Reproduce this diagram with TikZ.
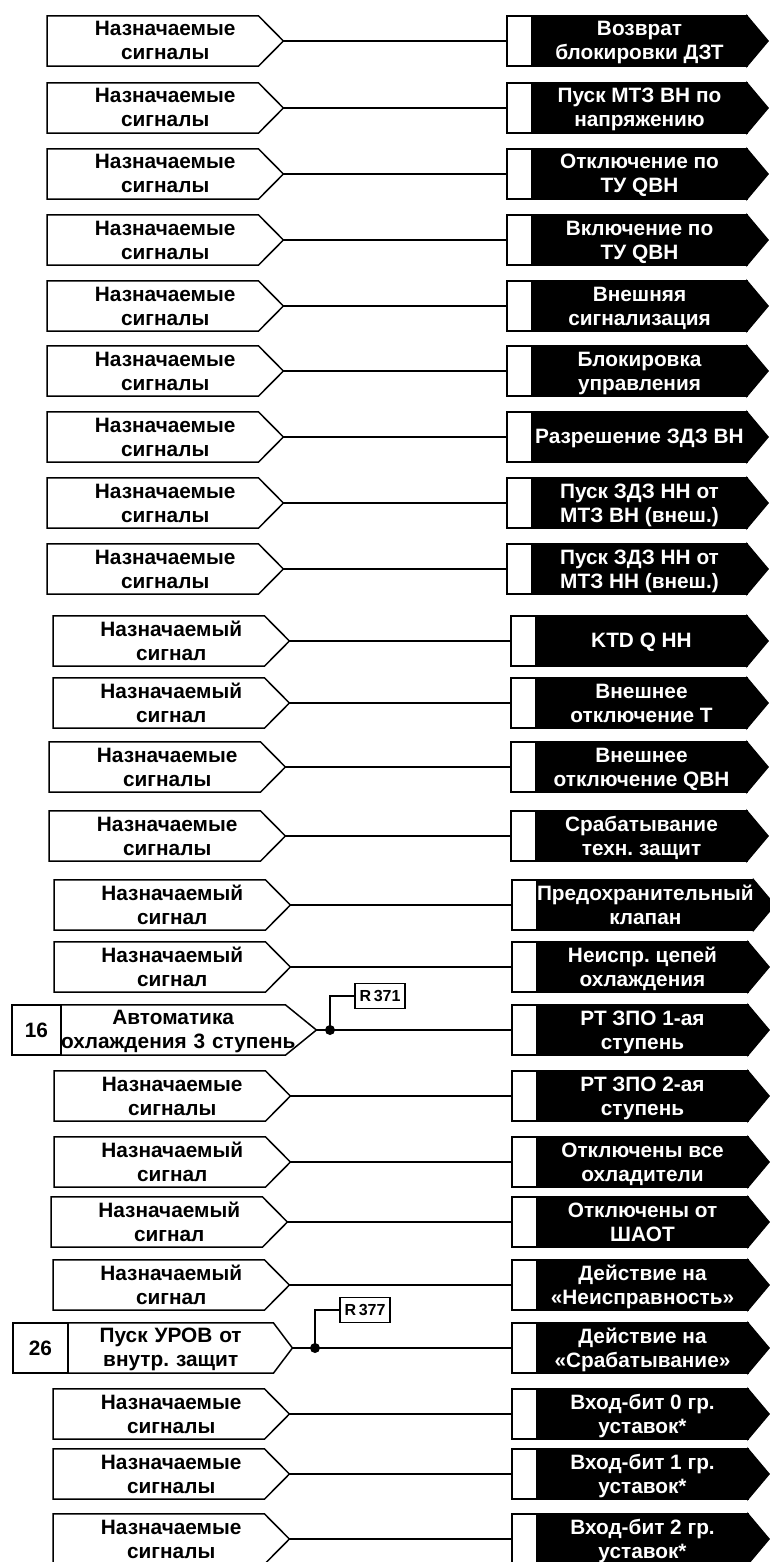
\documentclass[tikz,border=0pt]{standalone}
\usepackage{fontspec}
\setmainfont{Liberation Sans}
\frenchspacing
\usetikzlibrary{positioning}

\newlength\headroom

\tikzset{
  wire/.style={line width=1.5pt},
  label text/.style={font=\bfseries\fontsize{20.8}{24}\selectfont,
    /utils/exec={\setlength\headroom{43pt}},
    execute at begin node={\rule{0pt}{\headroom}},
    execute at end node={\rule[-5pt]{0pt}{5pt}}},
  oneline/.style={/utils/exec={\setlength\headroom{17pt}}},
  insig/.style={rectangle, minimum width=236pt, minimum height=50pt, inner sep=0pt,
    align=center, anchor=west, label text},
  tabbox/.style={draw, fill=white, line width=1.5pt, minimum width=25pt,
    minimum height=50pt, inner sep=0pt, outer sep=0pt, anchor=west},
  outsig/.style={rectangle, fill=black, draw=black, line width=1.5pt, text=white,
    minimum width=215pt, align=center, minimum height=50pt, inner sep=0pt, outer sep=0pt,
    label text},
  numbox/.style={draw, line width=1.5pt, minimum height=50pt, inner sep=0pt, outer sep=0pt,
    anchor=west, font=\bfseries\fontsize{20.8}{24}\selectfont},
  joint/.style={circle, fill=black, minimum size=10pt, inner sep=0pt},
  regbox/.style={draw, line width=1.5pt, minimum width=50pt, minimum height=25pt,
    inner sep=1pt, font=\bfseries\fontsize{16}{18}\selectfont},
}

\begin{document}
\begin{tikzpicture}[x=1pt, y=-1pt]
\useasboundingbox (0,0) rectangle (770,1562);

% left side
\node[insig] (sig1) at (47,41) {Назначаемые\\сигналы};
\node[insig] (sig2) at (47,108) {Назначаемые\\сигналы};
\node[insig] (sig3) at (47,174) {Назначаемые\\сигналы};
\node[insig] (sig4) at (47,240) {Назначаемые\\сигналы};
\node[insig] (sig5) at (47,306) {Назначаемые\\сигналы};
\node[insig] (sig6) at (47,371) {Назначаемые\\сигналы};
\node[insig] (sig7) at (47,437) {Назначаемые\\сигналы};
\node[insig] (sig8) at (47,503) {Назначаемые\\сигналы};
\node[insig] (sig9) at (47,569) {Назначаемые\\сигналы};
\node[insig] (sig10) at (53,641) {Назначаемый\\сигнал};
\node[insig] (sig11) at (53,703) {Назначаемый\\сигнал};
\node[insig] (sig12) at (49,767) {Назначаемые\\сигналы};
\node[insig] (sig13) at (49,836) {Назначаемые\\сигналы};
\node[insig] (sig14) at (54,905) {Назначаемый\\сигнал};
\node[insig] (sig15) at (54,967) {Назначаемый\\сигнал};
\node[numbox, minimum width=49pt] (num16) at (12,1030) {16};
\node[insig, oneline, minimum width=224pt, text width=224pt, right=0pt of num16] (sig16) {Автоматика\\\mbox{охлаждения 3 ступень}};
\node[insig] (sig17) at (54,1096) {Назначаемые\\сигналы};
\node[insig] (sig18) at (54,1162) {Назначаемый\\сигнал};
\node[insig] (sig19) at (51,1222) {Назначаемый\\сигнал};
\node[insig] (sig20) at (53,1285) {Назначаемый\\сигнал};
\node[numbox, minimum width=55pt] (num21) at (13,1348) {26};
\node[insig, oneline, minimum width=205pt, text width=205pt, right=0pt of num21] (sig21) {Пуск УРОВ от\\внутр. защит};
\node[insig] (sig22) at (53,1414) {Назначаемые\\сигналы};
\node[insig] (sig23) at (53,1474) {Назначаемые\\сигналы};
\node[insig] (sig24) at (53,1539) {Назначаемые\\сигналы};

% right side
\node[tabbox] (tab1) at (507,41) {};
\node[outsig, right=0pt of tab1] (out1) {Возврат\\блокировки ДЗТ};
\node[tabbox] (tab2) at (507,108) {};
\node[outsig, right=0pt of tab2] (out2) {Пуск МТЗ ВН по\\напряжению};
\node[tabbox] (tab3) at (507,174) {};
\node[outsig, right=0pt of tab3] (out3) {Отключение по\\ТУ QВН};
\node[tabbox] (tab4) at (507,240) {};
\node[outsig, right=0pt of tab4] (out4) {Включение по\\ТУ QВН};
\node[tabbox] (tab5) at (507,306) {};
\node[outsig, right=0pt of tab5] (out5) {Внешняя\\сигнализация};
\node[tabbox] (tab6) at (507,371) {};
\node[outsig, right=0pt of tab6] (out6) {Блокировка\\управления};
\node[tabbox] (tab7) at (507,437) {};
\node[outsig, oneline, right=0pt of tab7] (out7) {Разрешение ЗДЗ ВН};
\node[tabbox] (tab8) at (507,503) {};
\node[outsig, right=0pt of tab8] (out8) {Пуск ЗДЗ НН от\\МТЗ ВН (внеш.)};
\node[tabbox] (tab9) at (507,569) {};
\node[outsig, right=0pt of tab9] (out9) {Пуск ЗДЗ НН от\\МТЗ НН (внеш.)};
\node[tabbox] (tab10) at (511,641) {};
\node[outsig, oneline, minimum width=211pt, right=0pt of tab10] (out10) {KTD Q НН};
\node[tabbox] (tab11) at (511,703) {};
\node[outsig, minimum width=211pt, right=0pt of tab11] (out11) {Внешнее\\отключение Т};
\node[tabbox] (tab12) at (511,767) {};
\node[outsig, minimum width=211pt, right=0pt of tab12] (out12) {Внешнее\\отключение QВН};
\node[tabbox] (tab13) at (511,836) {};
\node[outsig, minimum width=211pt, right=0pt of tab13] (out13) {Срабатывание\\техн. защит};
\node[tabbox] (tab14) at (512,905) {};
\node[outsig, minimum width=211pt, right=0pt of tab14] (out14) {Предохранительный\\клапан};
\node[tabbox] (tab15) at (512,967) {};
\node[outsig, minimum width=211pt, right=0pt of tab15] (out15) {Неиспр. цепей\\охлаждения};
\node[tabbox] (tab16) at (512,1030) {};
\node[outsig, minimum width=211pt, right=0pt of tab16] (out16) {РТ ЗПО 1-ая\\ступень};
\node[tabbox] (tab17) at (512,1096) {};
\node[outsig, minimum width=211pt, right=0pt of tab17] (out17) {РТ ЗПО 2-ая\\ступень};
\node[tabbox] (tab18) at (512,1162) {};
\node[outsig, minimum width=211pt, right=0pt of tab18] (out18) {Отключены все\\охладители};
\node[tabbox] (tab19) at (512,1222) {};
\node[outsig, minimum width=211pt, right=0pt of tab19] (out19) {Отключены от\\ШАОТ};
\node[tabbox] (tab20) at (512,1285) {};
\node[outsig, minimum width=211pt, right=0pt of tab20] (out20) {Действие на\\«Неисправность»};
\node[tabbox] (tab21) at (512,1348) {};
\node[outsig, minimum width=211pt, right=0pt of tab21] (out21) {Действие на\\«Срабатывание»};
\node[tabbox] (tab22) at (512,1414) {};
\node[outsig, minimum width=211pt, right=0pt of tab22] (out22) {Вход-бит 0 гр.\\уставок*};
\node[tabbox] (tab23) at (512,1474) {};
\node[outsig, minimum width=211pt, right=0pt of tab23] (out23) {Вход-бит 1 гр.\\уставок*};
\node[tabbox] (tab24) at (512,1539) {};
\node[outsig, minimum width=211pt, right=0pt of tab24] (out24) {Вход-бит 2 гр.\\уставок*};

% arrow tips of the outputs
\foreach \i in {1,...,24}
  \filldraw[wire, line join=miter] (out\i.north east) -- ([xshift=21pt]out\i.east) -- (out\i.south east) -- cycle;

% plain rows
\foreach \i in {1,2,3,4,5,6,7,8,9,10,11,12,13,14,15,17,18,19,20,22,23,24}{
  \draw[wire] (sig\i.north west) -- ([xshift=-25pt]sig\i.north east) -- (sig\i.east)
    -- ([xshift=-25pt]sig\i.south east) -- (sig\i.south west) -- cycle;
  \draw[wire] (sig\i.east) -- (tab\i.west);
}

% row 16 with register
\coordinate (tip16) at ([xshift=31pt]sig16.east);
\draw[wire] (sig16.north west) -- (sig16.north east) -- (tip16) -- (sig16.south east) -- (sig16.south west);
\node[joint] (j16) at (330,1030) {};
\node[regbox] (reg16) at (380,996) {R\,371};
\draw[wire] (tip16) -- (j16.center) -- (tab16.west);
\draw[wire] (j16.center) |- (reg16.west);

% row 26 with register
\coordinate (tip21) at ([xshift=19pt]sig21.east);
\draw[wire] (sig21.north west) -- (sig21.north east) -- (tip21) -- (sig21.south east) -- (sig21.south west);
\node[joint] (j21) at (315,1348) {};
\node[regbox] (reg21) at (365,1310) {R\,377};
\draw[wire] (tip21) -- (j21.center) -- (tab21.west);
\draw[wire] (j21.center) |- (reg21.west);

\end{tikzpicture}
\end{document}
